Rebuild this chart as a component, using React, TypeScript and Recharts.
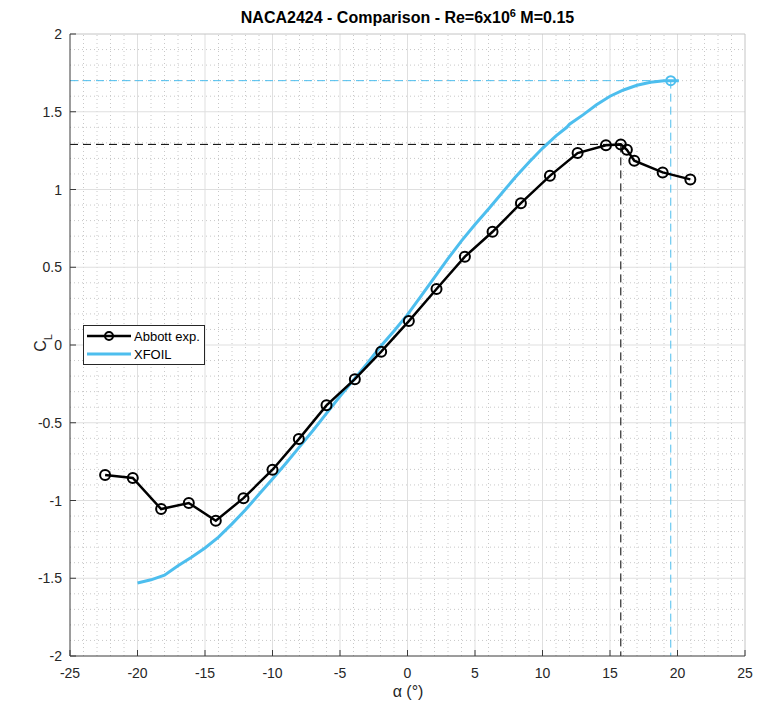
import React from "react";
import {
  LineChart,
  Line,
  XAxis,
  YAxis,
  ReferenceLine,
  ReferenceDot,
} from "recharts";

// ---- data ----
const abbottAlpha = [-22.4, -20.35, -18.25, -16.2, -14.2, -12.15, -10.0, -8.05, -6.0, -3.9, -1.95, 0.1, 2.15, 4.25, 6.3, 8.4, 10.55, 12.6, 14.7, 15.8, 16.25, 16.8, 18.9, 20.95];
const abbottCl = [-0.836, -0.855, -1.055, -1.016, -1.13, -0.985, -0.802, -0.605, -0.388, -0.22, -0.043, 0.154, 0.36, 0.568, 0.728, 0.912, 1.088, 1.234, 1.284, 1.29, 1.255, 1.185, 1.11, 1.065];

const xfoilAlpha = [-20, -19, -18, -17, -16, -15, -14, -13, -12, -11, -10, -9, -8, -7, -6, -5, -4, -3, -2, -1, 0, 1, 2, 3, 4, 5, 6, 7, 8, 9, 10, 11, 11.8, 12, 13, 14, 15, 16, 17, 18, 19, 19.5, 20.1];
const xfoilCl = [-1.53, -1.51, -1.48, -1.42, -1.365, -1.305, -1.235, -1.15, -1.06, -0.96, -0.862, -0.76, -0.655, -0.55, -0.44, -0.33, -0.225, -0.12, -0.01, 0.09, 0.195, 0.315, 0.435, 0.555, 0.67, 0.775, 0.875, 0.978, 1.08, 1.175, 1.265, 1.345, 1.4, 1.42, 1.48, 1.545, 1.6, 1.64, 1.67, 1.69, 1.7, 1.7, 1.7];

const abbottMax = { alpha: 15.8, cl: 1.29 };
const xfoilMax = { alpha: 19.5, cl: 1.7 };

const xTicks = [-25, -20, -15, -10, -5, 0, 5, 10, 15, 20, 25];
const yTicks = [-2, -1.5, -1, -0.5, 0, 0.5, 1, 1.5, 2];
const xMinor = [-24, -23, -22, -21, -19, -18, -17, -16, -14, -13, -12, -11, -9, -8, -7, -6, -4, -3, -2, -1, 1, 2, 3, 4, 6, 7, 8, 9, 11, 12, 13, 14, 16, 17, 18, 19, 21, 22, 23, 24];
const yMinor = [-1.9, -1.8, -1.7, -1.6, -1.4, -1.3, -1.2, -1.1, -0.9, -0.8, -0.7, -0.6, -0.4, -0.3, -0.2, -0.1, 0.1, 0.2, 0.3, 0.4, 0.6, 0.7, 0.8, 0.9, 1.1, 1.2, 1.3, 1.4, 1.6, 1.7, 1.8, 1.9];

const abbottData = abbottAlpha.map((a, i) => ({ alpha: a, cl: abbottCl[i] }));
const xfoilData = xfoilAlpha.map((a, i) => ({ alpha: a, cl: xfoilCl[i] }));

const BLUE = "#4DBEEE";
const AXIS = "#3a3a3a";
const FONT = "'Liberation Sans', Arial, sans-serif";

const XTick = (props: any) => {
  const { x, y, payload } = props;
  return (
    <g>
      <line x1={x} x2={x} y1={y - 10} y2={y - 16} stroke={AXIS} strokeWidth={1} />
      <text x={x} y={y + 12} textAnchor="middle" fontSize={14} fill="#262626" fontFamily={FONT}>
        {payload.value}
      </text>
    </g>
  );
};

const YTick = (props: any) => {
  const { x, y, payload } = props;
  return (
    <g>
      <line x1={x + 8} x2={x + 14} y1={y} y2={y} stroke={AXIS} strokeWidth={1} />
      <text x={x} y={y + 5} textAnchor="end" fontSize={14} fill="#262626" fontFamily={FONT}>
        {payload.value}
      </text>
    </g>
  );
};

const LegendBox = () => (
  <div
    style={{
      position: "absolute",
      left: 83,
      top: 325,
      width: 122,
      height: 40,
      border: "1px solid #262626",
      background: "#fff",
      boxSizing: "border-box",
      zIndex: 3,
    }}
  >
    <svg width={120} height={38} style={{ display: "block" }}>
      <line x1={3} x2={47} y1={10} y2={10} stroke="#000" strokeWidth={2.5} />
      <circle cx={25} cy={10} r={4} fill="none" stroke="#000" strokeWidth={2} />
      <text x={50} y={14.5} fontSize={13} fontFamily={FONT} fill="#000">Abbott exp.</text>
      <line x1={3} x2={47} y1={28} y2={28} stroke={BLUE} strokeWidth={3} />
      <text x={50} y={32.5} fontSize={13} fontFamily={FONT} fill="#000">XFOIL</text>
    </svg>
  </div>
);

export default function App() {
  return (
    <div style={{ position: "absolute", left: 0, top: 0, width: 758, height: 707, background: "#fff" }}>
      <div
        style={{
          position: "absolute",
          left: 0,
          top: 7,
          width: 815,
          textAlign: "center",
          fontFamily: FONT,
          fontWeight: "bold",
          fontSize: 16,
          color: "#000",
          zIndex: 2,
        }}
      >
        NACA2424 - Comparison - Re=6x10<sup style={{ fontSize: 11 }}>6</sup> M=0.15
      </div>
      <LineChart
        width={758}
        height={707}
        margin={{ top: 34, right: 13, bottom: 0, left: 0 }}
      >
        <XAxis
          dataKey="alpha"
          type="number"
          domain={[-25, 25]}
          ticks={xTicks}
          allowDataOverflow
          tickSize={0}
          tickMargin={10}
          tick={<XTick />}
          axisLine={{ stroke: AXIS }}
          height={51}
          label={() => (
            <text x={408} y={697} textAnchor="middle" fontSize={16} fontFamily={FONT} fill="#262626">
              α (°)
            </text>
          )}
        />
        <YAxis
          dataKey="cl"
          type="number"
          domain={[-2, 2]}
          ticks={yTicks}
          allowDataOverflow
          tickSize={0}
          tickMargin={8}
          tick={<YTick />}
          axisLine={{ stroke: AXIS }}
          width={70}
          label={() => (
            <text x={46} y={343} transform="rotate(-90 46 343)" textAnchor="middle" fontSize={16} fontFamily={FONT} fill="#262626">
              C<tspan baselineShift="sub" fontSize={11}>L</tspan>
            </text>
          )}
        />
        {xMinor.map((v) => (
          <ReferenceLine key={"xm" + v} x={v} stroke="#c8c8c8" strokeDasharray="1 3" strokeWidth={1} />
        ))}
        {yMinor.map((v) => (
          <ReferenceLine key={"ym" + v} y={v} stroke="#c8c8c8" strokeDasharray="1 3" strokeWidth={1} />
        ))}
        {xTicks.slice(1, -1).map((v) => (
          <ReferenceLine key={"xM" + v} x={v} stroke="#dfdfdf" strokeWidth={1} />
        ))}
        {yTicks.slice(1, -1).map((v) => (
          <ReferenceLine key={"yM" + v} y={v} stroke="#dfdfdf" strokeWidth={1} />
        ))}
        <ReferenceLine y={2} stroke="#c4c4c4" strokeWidth={1} />
        <ReferenceLine x={25} stroke="#c4c4c4" strokeWidth={1} />
        <ReferenceLine
          segment={[{ x: -25, y: abbottMax.cl }, { x: abbottMax.alpha, y: abbottMax.cl }]}
          stroke="#000"
          strokeDasharray="8 5"
          strokeWidth={1}
        />
        <ReferenceLine
          segment={[{ x: abbottMax.alpha, y: abbottMax.cl }, { x: abbottMax.alpha, y: -2 }]}
          stroke="#000"
          strokeDasharray="8 5"
          strokeWidth={1}
        />
        <ReferenceLine
          segment={[{ x: -25, y: xfoilMax.cl }, { x: xfoilMax.alpha, y: xfoilMax.cl }]}
          stroke={BLUE}
          strokeDasharray="8 5"
          strokeWidth={1}
        />
        <ReferenceLine
          segment={[{ x: xfoilMax.alpha, y: xfoilMax.cl }, { x: xfoilMax.alpha, y: -2 }]}
          stroke={BLUE}
          strokeDasharray="8 5"
          strokeWidth={1}
        />
        <Line
          data={xfoilData}
          dataKey="cl"
          stroke={BLUE}
          strokeWidth={3}
          dot={false}
          isAnimationActive={false}
          name="XFOIL"
        />
        <Line
          data={abbottData}
          dataKey="cl"
          stroke="#000"
          strokeWidth={2.5}
          dot={{ r: 5, fill: "none", stroke: "#000", strokeWidth: 2 }}
          isAnimationActive={false}
          name="Abbott exp."
        />
        <ReferenceDot x={xfoilMax.alpha} y={xfoilMax.cl} r={4.5} fill="none" stroke={BLUE} strokeWidth={2} />
      </LineChart>
      <LegendBox />
    </div>
  );
}
